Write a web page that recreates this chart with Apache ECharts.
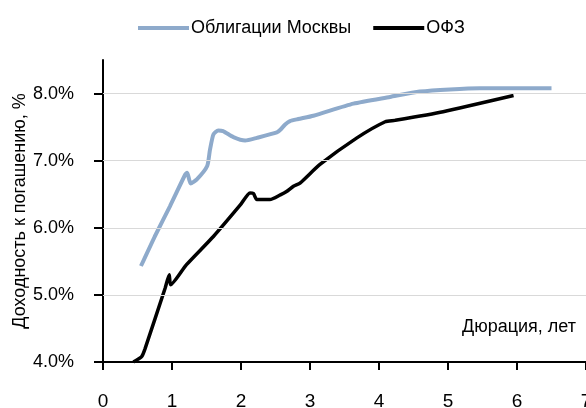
<!DOCTYPE html>
<html>
<head>
    <meta charset="utf-8">
    <title>Кривые доходности</title>
    <script src="https://cdn.jsdelivr.net/npm/echarts@6/dist/echarts.min.js"></script>
    <style>
        html, body { margin: 0; padding: 0; background: #fff; }
    </style>
</head>
<body>
<div id="main" style="width: 586px;height:408px;"></div>
<script type="text/javascript">
    // данные: дюрация (лет) и доходность (%)
    var moscowDur = [0.55, 0.75, 0.97, 1.19, 1.22, 1.27, 1.36, 1.51, 1.55, 1.60, 1.67, 1.74, 1.89, 2.06, 2.23, 2.52, 2.57, 2.64, 2.71, 2.83, 3.05, 3.63, 4.16, 4.59, 5.46, 6.50];
    var moscowYld = [5.43, 5.87, 6.32, 6.79, 6.82, 6.66, 6.72, 6.92, 7.16, 7.39, 7.45, 7.44, 7.35, 7.30, 7.34, 7.42, 7.46, 7.54, 7.59, 7.62, 7.67, 7.85, 7.95, 8.03, 8.08, 8.08];
    var ofzDur = [0.44, 0.56, 0.61, 0.90, 0.96, 0.98, 1.21, 1.60, 1.99, 2.13, 2.18, 2.23, 2.42, 2.57, 2.66, 2.76, 2.86, 3.14, 3.68, 4.09, 4.23, 4.93, 5.95];
    var ofzYld = [4.00, 4.08, 4.20, 5.10, 5.30, 5.15, 5.45, 5.87, 6.34, 6.52, 6.51, 6.42, 6.42, 6.49, 6.54, 6.62, 6.67, 6.94, 7.34, 7.58, 7.60, 7.73, 7.97];
    var gridLevels = [5, 6, 7, 8];
    var yTicks = [4, 5, 6, 7, 8];
    var seriesNames = ['Облигации Москвы', 'ОФЗ'];

    var font = '"Liberation Sans Narrow", "Liberation Sans", Arial, sans-serif';

    function pairs(xs, ys) {
        var out = [];
        for (var i = 0; i < xs.length; i++) {
            out.push([xs[i], ys[i]]);
        }
        return out;
    }

    var myChart = echarts.init(document.getElementById('main'));

    var option = {
        animation: false,
        textStyle: { fontFamily: font },
        legend: {
            data: seriesNames,
            left: 133,
            top: 14,
            icon: 'rect',
            itemWidth: 51,
            itemHeight: 4,
            itemGap: 22,
            textStyle: { fontFamily: font, fontSize: 18, color: '#000', padding: [0, 0, 0, -3] }
        },
        grid: {
            left: 103,
            top: 60,
            width: 483,
            height: 302,
            outerBoundsMode: 'none'
        },
        xAxis: {
            type: 'value',
            min: 0,
            max: 7,
            interval: 1,
            axisLine: { show: true, lineStyle: { color: '#000', width: 2 } },
            axisTick: { show: true, length: 8, lineStyle: { color: '#000', width: 2 } },
            axisLabel: { margin: 30, fontFamily: font, fontSize: 19, color: '#000' },
            splitLine: { show: false }
        },
        yAxis: {
            type: 'value',
            min: 4,
            max: 8.5,
            interval: 1,
            name: 'Доходность к погашению, %',
            nameLocation: 'middle',
            nameGap: 74,
            nameMoveOverlap: false,
            nameTextStyle: { fontFamily: font, fontSize: 18, color: '#000' },
            axisLine: { show: true, lineStyle: { color: '#000', width: 2 } },
            axisTick: { show: true, length: 9, customValues: yTicks, lineStyle: { color: '#000', width: 2 } },
            axisLabel: {
                margin: 29,
                customValues: yTicks,
                fontFamily: font,
                fontSize: 18,
                color: '#000',
                formatter: function (v) { return v.toFixed(1) + '%'; }
            },
            splitLine: { show: false }
        },
        graphic: [{
            type: 'text',
            right: 10,
            top: 318,
            style: { text: 'Дюрация, лет', font: '18px ' + font, fill: '#000' }
        }],
        series: [
            {
                name: 'grid',
                type: 'line',
                data: [],
                z: 1,
                silent: true,
                markLine: {
                    silent: true,
                    symbol: 'none',
                    label: { show: false },
                    lineStyle: { color: '#d9d9d9', width: 1, type: 'solid' },
                    data: gridLevels.map(function (v) { return { yAxis: v }; })
                }
            },
            {
                name: seriesNames[0],
                type: 'line',
                z: 3,
                showSymbol: false,
                symbol: 'none',
                smooth: 0.2,
                color: '#8eaacb',
                lineStyle: { width: 4, color: '#8eaacb' },
                data: pairs(moscowDur, moscowYld)
            },
            {
                name: seriesNames[1],
                type: 'line',
                z: 4,
                showSymbol: false,
                symbol: 'none',
                smooth: 0.2,
                color: '#000',
                lineStyle: { width: 3.5, color: '#000' },
                data: pairs(ofzDur, ofzYld)
            }
        ]
    };

    myChart.setOption(option);
</script>
</body>
</html>
